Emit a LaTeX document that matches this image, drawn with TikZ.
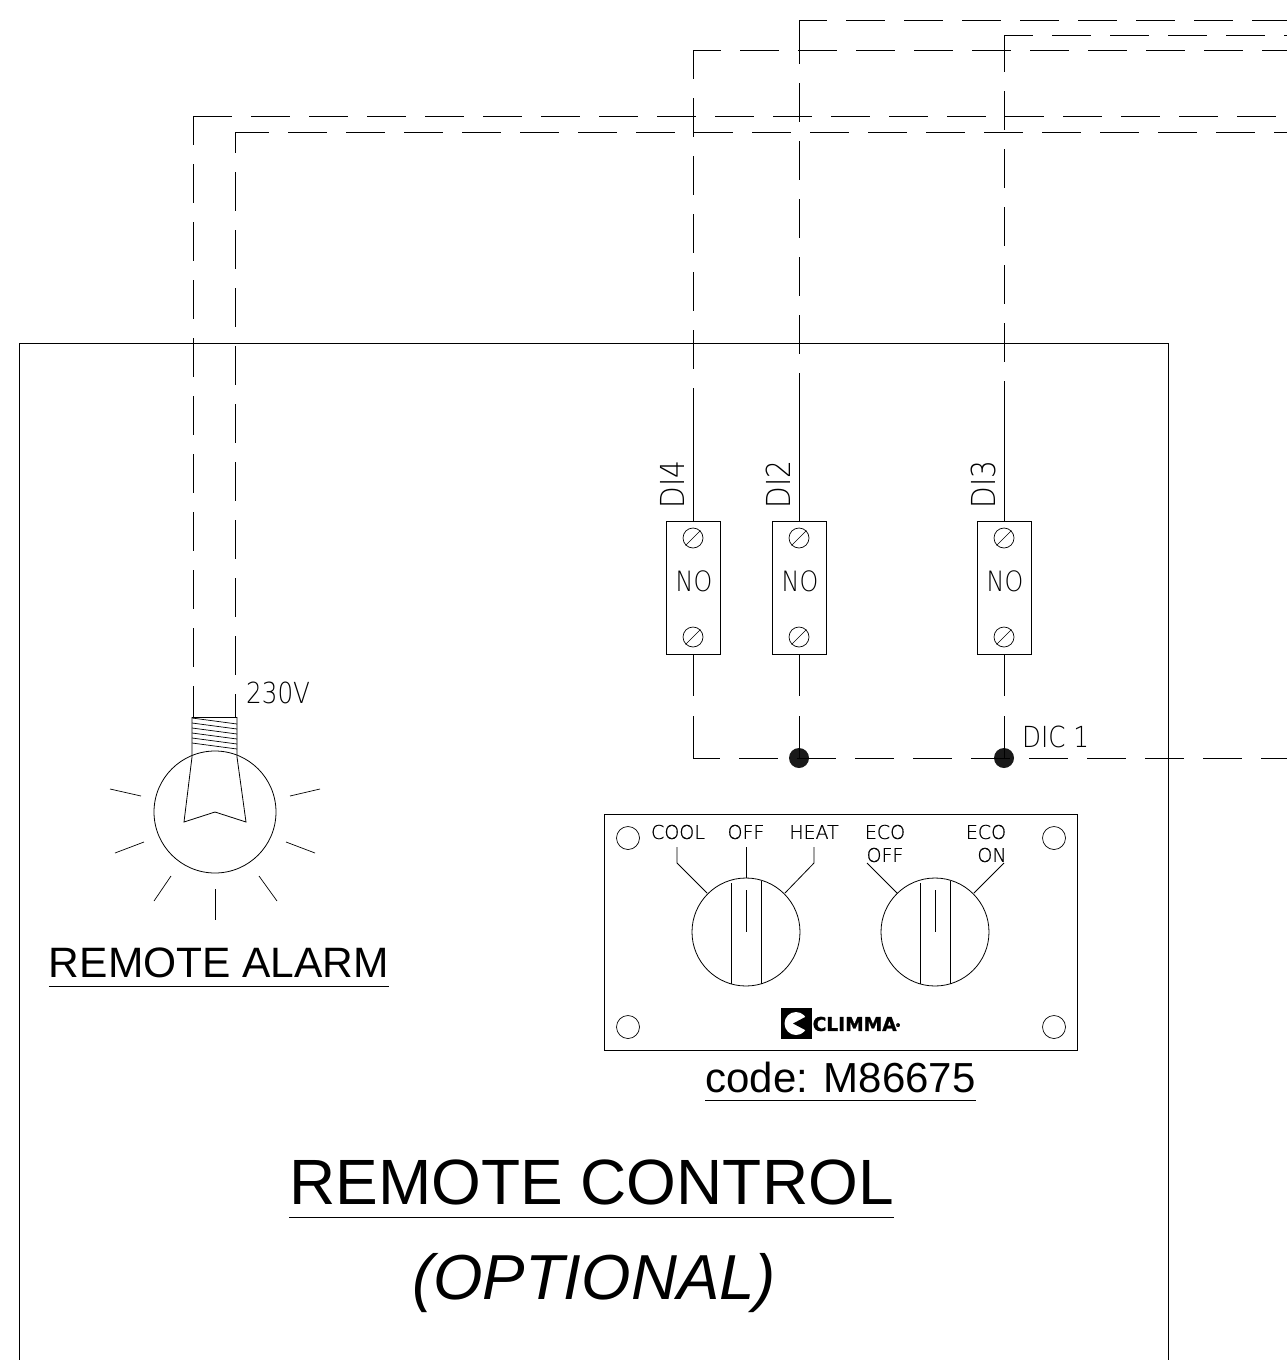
\documentclass[tikz,border=0pt]{standalone}
\usepackage{fontspec}
\setmainfont{Liberation Sans}
\newfontfamily\cadfont[FakeStretch=0.85]{DejaVu Sans ExtraLight}
\newfontfamily\panelfont[FakeBold=0.6]{DejaVu Sans ExtraLight}
\newfontfamily\logofont[FakeStretch=0.98, FakeBold=1.2]{DejaVu Sans Bold}
\usetikzlibrary{positioning, calc}
\newcommand{\sized}[1]{\fontsize{#1}{#1}\selectfont}
\tikzset{
	wire/.style={line width=0.8pt},
	dashwire/.style={wire, dash pattern=on 39pt off 19pt, dash phase=#1pt},
	termbox/.style={draw, line width=0.8pt, minimum width=54, minimum height=133, inner sep=0},
	screw/.style={draw, circle, line width=0.7pt, minimum size=20, inner sep=0},
	hole/.style={draw, circle, line width=0.7pt, minimum size=23, inner sep=0},
	knob/.style={draw, circle, wire, minimum size=108, inner sep=0},
	joint/.style={circle, fill=black!90, minimum size=20, inner sep=0},
	cadtext/.style={font=\cadfont\sized{#1}, inner sep=0},
	paneltext/.style={font=\panelfont\sized{19}, inner sep=0},
	title/.style={font=\sized{#1}, inner sep=0, anchor=base},
}
\begin{document}
\begin{tikzpicture}[x=1pt, y=-1pt]
\useasboundingbox (0,0) rectangle (1287,1360);
\draw[wire] (19,1360) -- (19,343) -- (1168,343) -- (1168,1360);

% terminals
\foreach \d/\x/\ytop/\hp/\vp/\vs/\ysolid in {4/693/50/11/10/0/389, 2/799/20/11/0/5/374, 3/1004/35/10/2/0/382} {
	\node[termbox] (box\d) at (\x, 587.5) {};
	\node[screw] (scrt\d) at (\x, 538) {};
	\node[screw] (scrb\d) at (\x, 637) {};
	\draw[line width=0.6pt] (scrt\d.south west) -- (scrt\d.north east);
	\draw[line width=0.6pt] (scrb\d.south west) -- (scrb\d.north east);
	\node[cadtext=28] (no\d) at (\x+1, 581) {NO};
	\node[cadtext=33, rotate=90] (lab\d) at (\x-21, 484.5) {DI\d};
	\coordinate (cnr\d) at (\x, \ytop);
	\coordinate (sol\d) at (\x, \ysolid);
	\draw[dashwire=\hp] (cnr\d) -- (1287, \ytop);
	\draw[wire] (cnr\d) -- +(0, \vs);
	\draw[dashwire=\vp] ($(cnr\d)+(0, \vs)$) -- (sol\d);
	\draw[wire] (sol\d) -- (box\d.north);
}

% bus
\coordinate (bus4) at (693, 758);
\node[joint] (bus2) at (799, 758) {};
\node[joint] (bus3) at (1004, 758) {};
\coordinate (busend) at (1287, 758);
\draw[dashwire=12] (bus4) -- (busend);
\foreach \d in {4, 2, 3}
	\draw[wire, dash pattern=on 42pt off 20pt on 60pt off 0pt] (box\d.south) -- (box\d.south |- bus4);
\node[cadtext=29, anchor=west] (diclab) at (1022, 737) {DIC 1};

% alarm
\node[draw, circle, wire, minimum size=122, inner sep=0] (bulb) at (215, 812) {};
\coordinate (captl) at (192, 717);
\coordinate (captr) at (237, 717);
\draw[wire] (captl) -- (captr);
\draw[wire] (captl) -- (192, 757) -- (184, 822) -- (215, 812) -- (246, 822) -- (237, 757) -- (captr);
\foreach \k in {0, ..., 5}
	\draw[line width=0.7pt] (192, 718+5*\k) -- (237, 724+5*\k);
\foreach \x/\ytop/\hp/\vp/\n in {193/116/0/10/a, 235/132/5/18/b} {
	\coordinate (cnr\n) at (\x, \ytop);
	\draw[dashwire=\hp] (cnr\n) -- (1287, \ytop);
	\draw[dashwire=\vp] (cnr\n) -- (\x, 717);
}
\foreach \a/\b/\c/\d in {110/789/141/796, 115/853/144/842, 154/901/171/876, 215/889/215/920, 259/876/277/901, 286/842/315/853, 290/796/320/789}
	\draw[line width=0.7pt] (\a, \b) -- (\c, \d);
\node[cadtext=29, anchor=west] (voltlab) at (246, 693) {230V};
\node[title=42.5] (alarmlab) at (219, 977) {REMOTE ALARM};
\draw[wire] ($(alarmlab.base west)+(0, 9)$) -- ($(alarmlab.base east)+(0, 9)$);

% panel
\node[draw, wire, minimum width=473, minimum height=236, inner sep=0] (panel) at (840.5, 932) {};
\foreach \n/\x/\y in {a/628/838, b/1054/838, c/628/1027, d/1054/1027}
	\node[hole] (hole\n) at (\x, \y) {};
\foreach \n/\x in {l/746, r/935} {
	\node[knob] (knob\n) at (\x, 932) {};
	\draw[wire] (\x-15, 883) -- (\x-15, 984);
	\draw[wire] (\x+15, 881) -- (\x+15, 984);
	\draw[line width=0.7pt] (\x, 890) -- (knob\n.center);
}
\foreach \t/\x/\y in {COOL/678/832, OFF/746/832, HEAT/814/832, ECO/885/832, OFF/885/855, ECO/986/832, ON/992/855}
	\node[paneltext] (txt\t\y) at (\x, \y) {\t};
\draw[wire] (677, 847) -- (677, 863) -- (707, 893);
\draw[wire] (746, 847) -- (746, 878);
\draw[wire] (814, 847) -- (814, 863) -- (785, 893);
\draw[wire] (867, 863) -- (897, 893);
\draw[wire] (1004, 863) -- (974, 893);

% logo
\node[fill=black, minimum size=31, inner sep=0] (logo) at (796, 1023.5) {};
\fill[white] (logo.center) circle (11.5);
\fill[black] (793, 1023.5) -- (809, 1015) -- (809, 1032) -- cycle;
\node[font=\logofont\sized{19}, inner sep=0, anchor=west] (logotxt) at (812.5, 1024) {CLIMMA\kern-1pt\raisebox{4pt}{\sized{5}®}};

% titles
\node[title=42] (codelab) at (840.5, 1092) {code: M86675};
\draw[wire] ($(codelab.base west)+(0, 8)$) -- ($(codelab.base east)+(0, 8)$);
\node[title=64] (ctrllab) at (591.5, 1204) {REMOTE CONTROL};
\draw[wire] ($(ctrllab.base west)+(0, 13)$) -- ($(ctrllab.base east)+(0, 13)$);
\node[title=64, font=\itshape\sized{63.6}] (optlab) at (594, 1299) {(OPTIONAL)};
\end{tikzpicture}
\end{document}
